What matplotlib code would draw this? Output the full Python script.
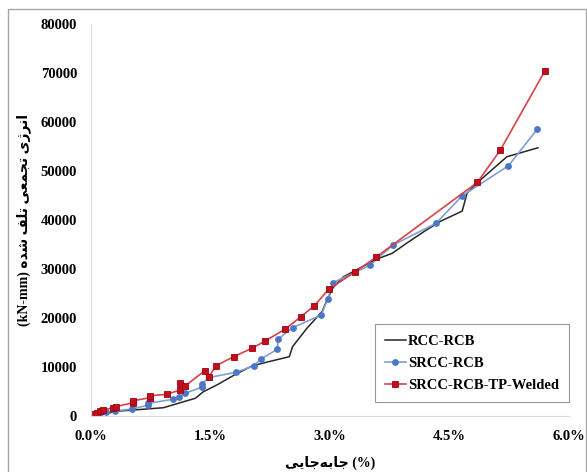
import matplotlib.pyplot as plt
from matplotlib.patches import Rectangle
from matplotlib.ticker import FuncFormatter

# drift (%) and cumulative dissipated energy (kN-mm)
rcc_x = [0.01, 0.11, 0.24, 0.31, 0.62, 0.91, 1.12, 1.31, 1.41, 1.58, 1.81, 2.02, 2.23, 2.49, 2.53,
         2.71, 2.90, 2.96, 3.04, 3.17, 3.58, 3.78, 3.96, 4.19, 4.38, 4.66, 4.72, 4.84, 5.22, 5.61]
rcc_y = [100, 400, 770, 1060, 1430, 1790, 2810, 3710, 5050, 6420, 8560, 10290, 11170, 12190, 14230,
         17980, 21360, 23640, 26290, 28490, 32040, 33260, 35300, 37800, 39740, 41880, 45490, 47530, 52950, 54780]

srcc_x = [0.01, 0.05, 0.11, 0.19, 0.30, 0.52, 0.72, 0.72, 1.03, 1.11, 1.18, 1.39, 1.39, 1.48, 1.82,
          2.04, 2.14, 2.34, 2.35, 2.53, 2.89, 2.97, 3.04, 3.50, 3.79, 4.33, 4.66, 5.24, 5.60]
srcc_y = [160, 450, 650, 920, 1120, 1530, 2340, 2690, 3510, 4040, 4730, 5950, 6620, 7950, 9010,
          10290, 11780, 13700, 15790, 18100, 20690, 23890, 27310, 30810, 34950, 39370, 45000, 51110, 58530]

tp_x = [0.02, 0.07, 0.11, 0.15, 0.28, 0.31, 0.53, 0.53, 0.74, 0.74, 0.95, 1.12, 1.12, 1.18, 1.43,
        1.48, 1.57, 1.79, 2.02, 2.18, 2.44, 2.63, 2.80, 2.99, 3.32, 3.58, 4.85, 5.14, 5.70]
tp_y = [450, 770, 1120, 1330, 1790, 2000, 2810, 3220, 3830, 4240, 4520, 5400, 6890, 6220, 9330,
        8150, 10350, 12190, 13900, 15330, 17830, 20280, 22520, 26030, 29510, 32510, 47730, 54350, 70520]

x_ticks = [0, 1.5, 3.0, 4.5, 6.0]
y_ticks = list(range(0, 80001, 10000))
labels = ["RCC-RCB", "SRCC-RCB", "SRCC-RCB-TP-Welded"]

# Persian labels written with presentation forms (no shaping in matplotlib),
# logical order, reversed below for left-to-right drawing
fa_energy = "\uFE8D\uFEE7\uFEAE\uFB8A\uFBFC \uFE97\uFEA0\uFEE4\uFECC\uFBFD \uFE97\uFEE0\uFED2 \uFEB7\uFEAA\uFEE9"
fa_drift = "\uFE9F\uFE8E\uFE91\uFEEA\uFE9F\uFE8E\uFBFE\uFBFD"
ylabel = "(kN-mm) " + fa_energy[::-1]
xlabel = fa_drift[::-1] + " (%)"

serif = ["Liberation Serif", "DejaVu Sans"]

fig = plt.figure(figsize=(5.87, 4.72), dpi=100)
ax = fig.add_axes([0.155, 0.1176, 0.8143, 0.8314])

ax.plot(rcc_x, rcc_y, color="#262626", lw=1.1, label=labels[0])
ax.plot(srcc_x, srcc_y, color="#7f9ed3", lw=1.2, marker="o", ms=3.9,
        mfc="#4a78c6", mec="#4a78c6", label=labels[1])
ax.plot(tp_x, tp_y, color="#d9414a", lw=1.2, marker="s", ms=4.6,
        mfc="#c0101c", mec="#a00010", mew=0.6, label=labels[2])

ax.set_xlim(0, 6)
ax.set_ylim(0, 80000)
ax.set_xticks(x_ticks)
ax.set_yticks(y_ticks)
ax.xaxis.set_major_formatter(FuncFormatter(lambda v, p: f"{v:.1f}%"))
ax.tick_params(length=0, pad=10)
for t in ax.get_xticklabels() + ax.get_yticklabels():
    t.set_fontfamily(serif)
    t.set_fontweight("bold")
    t.set_fontsize(10.5)

for s in ["top", "right"]:
    ax.spines[s].set_visible(False)
for s in ["left", "bottom"]:
    ax.spines[s].set_color("#d9d9d9")
    ax.spines[s].set_linewidth(0.8)

ax.set_xlabel(xlabel, fontfamily=serif, fontweight="bold", fontsize=10, labelpad=9)
ax.set_ylabel(ylabel, fontfamily=serif, fontweight="bold", fontsize=10, labelpad=7)

leg = ax.legend(loc="lower right", bbox_to_anchor=(1.0, 0.037), borderaxespad=0,
                fancybox=False, edgecolor="#7f7f7f", handlelength=1.4, handletextpad=0.15,
                prop={"family": serif, "weight": "bold", "size": 10.5}, borderpad=0.7,
                labelspacing=0.6)
leg.get_frame().set_linewidth(0.8)

fig.patches.append(Rectangle((8 / 587, -0.02), 578 / 587, 0.02 + 463 / 472,
                             transform=fig.transFigure, fill=False,
                             edgecolor="#a6a6a6", lw=1.0))

fig.savefig("out.png", dpi=100)
